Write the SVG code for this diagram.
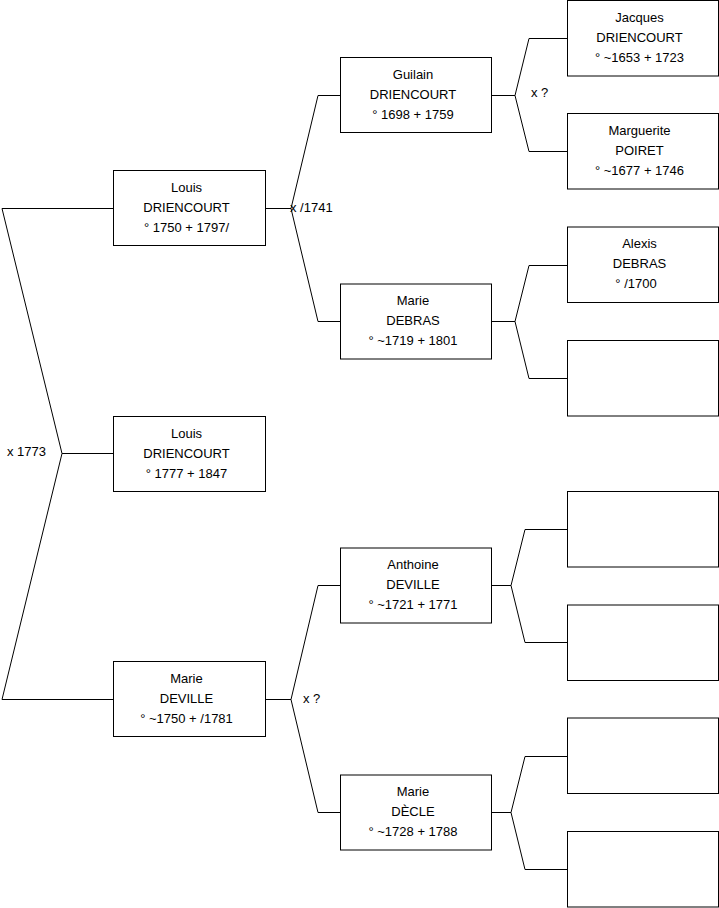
<svg xmlns="http://www.w3.org/2000/svg" width="719" height="908" viewBox="0 0 719 908">
<style>
rect.box{fill:#fff;stroke:#000;stroke-width:1}
.c path{fill:none;stroke:#000;stroke-width:1}
text{font-family:"Liberation Sans",Arial,sans-serif;font-size:13px;fill:#000}
.n text{text-anchor:middle}
</style>
<rect width="719" height="908" fill="#fff"/>
<g class="c" id="connectors">
<path d="M113.5,208.5 H2 L62,453.5 L2,699.5 H113.5 M62,453.5 H113.5"/>
<path d="M265.5,208.5 H291 L318,95.5 H340.5 M291,208.5 L318,321.5 H340.5"/>
<path d="M265.5,699.5 H291 L318,585.5 H340.5 M291,699.5 L318,812.5 H340.5"/>
<path d="M491.5,95.5 H515 L529,38.5 H567.5 M515,95.5 L529,151.5 H567.5"/>
<path d="M491.5,321.5 H515 L529,265.5 H567.5 M515,321.5 L529,378.5 H567.5"/>
<path d="M491.5,585.5 H511 L525,529.5 H567.5 M511,585.5 L525,642.5 H567.5"/>
<path d="M491.5,812.5 H511 L525,756.5 H567.5 M511,812.5 L525,869.5 H567.5"/>
</g>
<g id="labels">
<text x="7" y="456">x 1773</text>
<text x="290" y="212">x /1741</text>
<text x="303" y="703">x ?</text>
<text x="531" y="97">x ?</text>
</g>
<g class="n" id="n-louis-1750">
<rect class="box" x="113.5" y="170.5" width="152" height="75"/>
<text x="186.5" y="191.5">Louis</text>
<text x="186.5" y="211.5">DRIENCOURT</text>
<text x="186.5" y="231.5">° 1750 + 1797/</text>
</g>
<g class="n" id="n-louis-1777">
<rect class="box" x="113.5" y="416.5" width="152" height="75"/>
<text x="186.5" y="437.5">Louis</text>
<text x="186.5" y="457.5">DRIENCOURT</text>
<text x="186.5" y="477.5">° 1777 + 1847</text>
</g>
<g class="n" id="n-marie-deville">
<rect class="box" x="113.5" y="661.5" width="152" height="75"/>
<text x="186.5" y="682.5">Marie</text>
<text x="186.5" y="702.5">DEVILLE</text>
<text x="186.5" y="722.5">° ~1750 + /1781</text>
</g>
<g class="n" id="n-guilain">
<rect class="box" x="340.5" y="57.5" width="151" height="75"/>
<text x="413" y="78.5">Guilain</text>
<text x="413" y="98.5">DRIENCOURT</text>
<text x="413" y="118.5">° 1698 + 1759</text>
</g>
<g class="n" id="n-marie-debras">
<rect class="box" x="340.5" y="284" width="151" height="75"/>
<text x="413" y="305">Marie</text>
<text x="413" y="325">DEBRAS</text>
<text x="413" y="345">° ~1719 + 1801</text>
</g>
<g class="n" id="n-anthoine">
<rect class="box" x="340.5" y="548" width="151" height="75"/>
<text x="413" y="569">Anthoine</text>
<text x="413" y="589">DEVILLE</text>
<text x="413" y="609">° ~1721 + 1771</text>
</g>
<g class="n" id="n-marie-decle">
<rect class="box" x="340.5" y="775" width="151" height="75"/>
<text x="413" y="796">Marie</text>
<text x="413" y="816">DÈCLE</text>
<text x="413" y="836">° ~1728 + 1788</text>
</g>
<g class="n" id="n-jacques">
<rect class="box" x="567.5" y="0.5" width="151" height="75.5"/>
<text x="639.5" y="21.5">Jacques</text>
<text x="639.5" y="41.5">DRIENCOURT</text>
<text x="639.5" y="61.5">° ~1653 + 1723</text>
</g>
<g class="n" id="n-marguerite">
<rect class="box" x="567.5" y="113.5" width="151" height="75.5"/>
<text x="639.5" y="134.5">Marguerite</text>
<text x="639.5" y="154.5">POIRET</text>
<text x="639.5" y="174.5">° ~1677 + 1746</text>
</g>
<g class="n" id="n-alexis">
<rect class="box" x="567.5" y="227" width="151" height="75.5"/>
<text x="639.5" y="248">Alexis</text>
<text x="639.5" y="268">DEBRAS</text>
<text x="636" y="288">° /1700</text>
</g>
<g class="n" id="n-empty-1">
<rect class="box" x="567.5" y="340.5" width="151" height="75.5"/>
</g>
<g class="n" id="n-empty-2">
<rect class="box" x="567.5" y="491.5" width="151" height="75.5"/>
</g>
<g class="n" id="n-empty-3">
<rect class="box" x="567.5" y="605" width="151" height="75.5"/>
</g>
<g class="n" id="n-empty-4">
<rect class="box" x="567.5" y="718" width="151" height="75.5"/>
</g>
<g class="n" id="n-empty-5">
<rect class="box" x="567.5" y="831.5" width="151" height="75.5"/>
</g>
</svg>
